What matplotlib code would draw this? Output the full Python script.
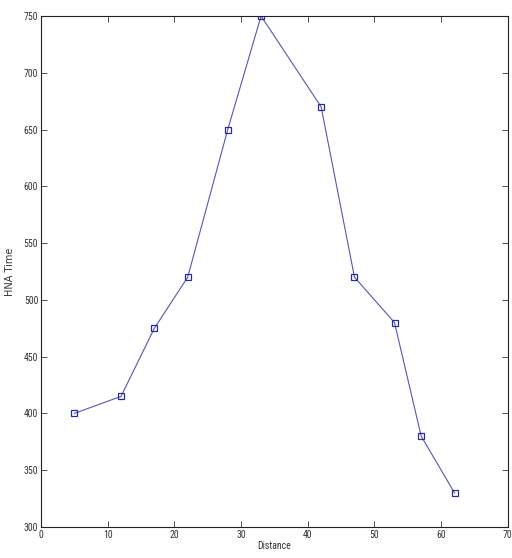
import matplotlib
matplotlib.use("Agg")
import matplotlib.pyplot as plt
from matplotlib import font_manager

# values
distance = [5, 12, 17, 22, 28, 33, 42, 47, 53, 57, 62]
hna_time = [400, 415, 475, 520, 650, 750, 670, 520, 480, 380, 330]

x_ticks = [0, 10, 20, 30, 40, 50, 60, 70]
y_ticks = [300, 350, 400, 450, 500, 550, 600, 650, 700, 750]

# narrow face for the tick labels, if one is installed
names = {f.name for f in font_manager.fontManager.ttflist}
narrow = "DejaVu Sans"
for cand in ["Liberation Sans Narrow", "Roboto Condensed", "Open Sans Condensed"]:
    if cand in names:
        narrow = cand
        break
print(narrow, sorted(f.fname for f in font_manager.fontManager.ttflist if "ondensed" in f.fname or "arrow" in f.fname))

fig = plt.figure(figsize=(5.12, 5.58), dpi=100)
ax = fig.add_axes([0.080, 0.0556, 0.912, 0.9157])

ax.plot(distance, hna_time, "-", color="#5656b4", lw=0.8,
        marker="s", ms=5, mfc="none", mec="#2a2a9a", mew=0.9)

ax.set_xlim(0, 70)
ax.set_ylim(300, 750)
ax.set_xticks(x_ticks)
ax.set_yticks(y_ticks)
ax.tick_params(direction="in", length=4, width=0.6, top=True, right=True,
               labelsize=7, pad=2, colors="#333333")
for lbl in ax.get_xticklabels() + ax.get_yticklabels():
    lbl.set_family(narrow)
    lbl.set_fontstretch("condensed")
for sp in ax.spines.values():
    sp.set_linewidth(0.8)
    sp.set_color("#222222")

ax.set_xlabel("Distance", fontsize=7, family=narrow, fontstretch="condensed",
              labelpad=1, color="#333333")
ax.set_ylabel("HNA Time", fontsize=7, labelpad=6, color="#333333")

fig.savefig("out.png", dpi=100)
